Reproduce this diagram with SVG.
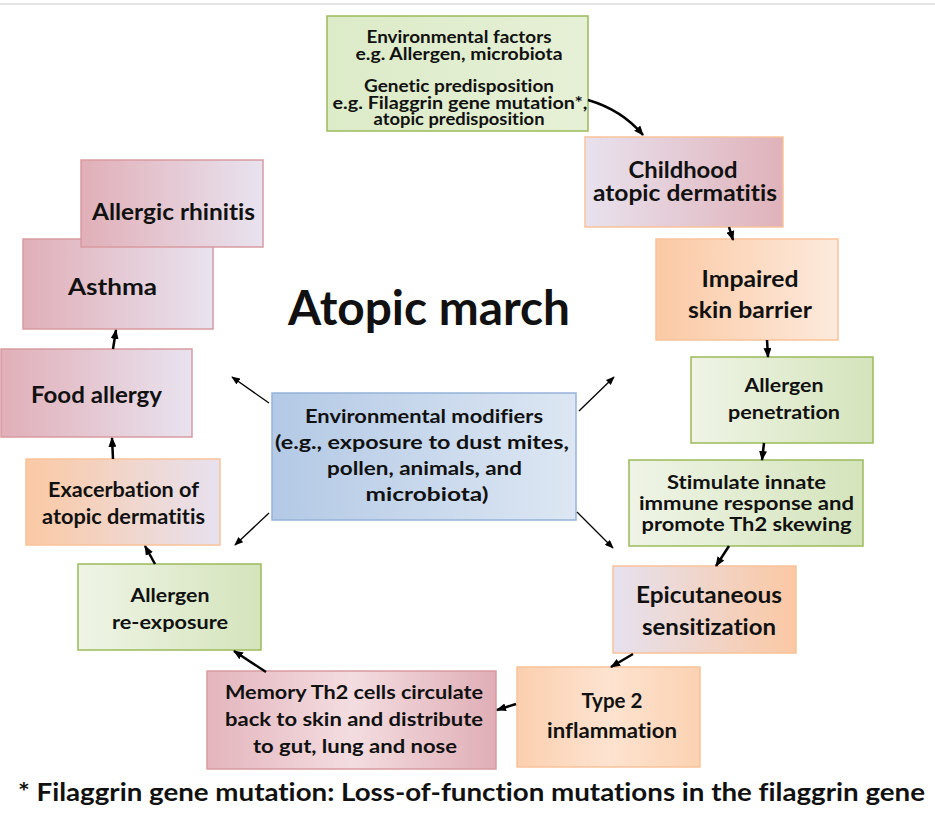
<svg xmlns="http://www.w3.org/2000/svg" width="935" height="821" viewBox="0 0 935 821">
<defs>
<linearGradient id="gGreen" x1="0" y1="0" x2="1" y2="0"><stop offset="0" stop-color="#eff4e6"/><stop offset="1" stop-color="#d4e4bb"/></linearGradient>
<linearGradient id="gGreenTop" x1="0" y1="0" x2="1" y2="0"><stop offset="0" stop-color="#dcebc8"/><stop offset="1" stop-color="#e6f0d6"/></linearGradient>
<linearGradient id="gLavPink" x1="0" y1="0" x2="1" y2="0"><stop offset="0" stop-color="#e8e2ee"/><stop offset="1" stop-color="#e0b2ba"/></linearGradient>
<linearGradient id="gPinkLav" x1="0" y1="0" x2="1" y2="0"><stop offset="0" stop-color="#e1afb8"/><stop offset="1" stop-color="#e8e3ef"/></linearGradient>
<linearGradient id="gOrangeLight" x1="0" y1="0" x2="1" y2="0"><stop offset="0" stop-color="#fbc9a4"/><stop offset="1" stop-color="#fdeadc"/></linearGradient>
<linearGradient id="gLavOrange" x1="0" y1="0" x2="1" y2="0"><stop offset="0" stop-color="#e6e1ef"/><stop offset="1" stop-color="#fbc8a3"/></linearGradient>
<linearGradient id="gOrangeLav" x1="0" y1="0" x2="1" y2="0"><stop offset="0" stop-color="#fbc9a4"/><stop offset="1" stop-color="#e7e1ef"/></linearGradient>
<linearGradient id="gOrange" x1="0" y1="0" x2="1" y2="0"><stop offset="0" stop-color="#fbcfae"/><stop offset="0.5" stop-color="#fde3d0"/><stop offset="1" stop-color="#fbd2b2"/></linearGradient>
<linearGradient id="gPink" x1="0" y1="0" x2="1" y2="0"><stop offset="0" stop-color="#e4b5bd"/><stop offset="0.5" stop-color="#f3dde0"/><stop offset="1" stop-color="#e0aeb6"/></linearGradient>
<linearGradient id="gBlue" x1="0" y1="0" x2="1" y2="0"><stop offset="0" stop-color="#b3c9e5"/><stop offset="1" stop-color="#dde7f3"/></linearGradient>
<marker id="ah" viewBox="0 0 10 8" refX="9" refY="4" markerWidth="10" markerHeight="8" markerUnits="userSpaceOnUse" orient="auto"><path d="M0,0 L10,4 L0,8 z" fill="#000"/></marker>
<marker id="ahs" viewBox="0 0 10 8" refX="9" refY="4" markerWidth="9" markerHeight="7" markerUnits="userSpaceOnUse" orient="auto"><path d="M0,0 L10,4 L0,8 z" fill="#000"/></marker>
</defs>
<style>
text{font-family:Lato,"Liberation Sans",sans-serif;font-weight:bold;fill:#111;text-anchor:middle;font-variant-ligatures:none}
.green{stroke:#9bbb59;stroke-width:1.5}
.peach{stroke:#f9c29a;stroke-width:1.5}
.red{stroke:#d99aa0;stroke-width:1.5}
.blue{stroke:#95b3d7;stroke-width:1.5}
.main{stroke:#000;stroke-width:2.5;fill:none;marker-end:url(#ah)}
.thin{stroke:#000;stroke-width:1.3;fill:none;marker-end:url(#ahs)}
</style>
<rect width="935" height="821" fill="#fff"/>
<line x1="0" y1="4" x2="935" y2="4" stroke="#c8c8c8" stroke-width="1"/>

<g id="env-factors">
<rect x="327" y="16" width="261" height="115" fill="url(#gGreenTop)" class="green"/>
<g font-size="16.5">
<text x="459" y="43" textLength="185" lengthAdjust="spacingAndGlyphs">Environmental factors</text>
<text x="459" y="60" textLength="207" lengthAdjust="spacingAndGlyphs">e.g. Allergen, microbiota</text>
<text x="459" y="92" textLength="190" lengthAdjust="spacingAndGlyphs">Genetic predisposition</text>
<text x="460" y="109" textLength="255" lengthAdjust="spacingAndGlyphs">e.g. Filaggrin gene mutation*,</text>
<text x="459" y="125" textLength="171" lengthAdjust="spacingAndGlyphs">atopic predisposition</text>
</g>
</g>

<g id="childhood-ad">
<rect x="585" y="137" width="198" height="90" fill="url(#gLavPink)" class="peach"/>
<text x="683" y="178" font-size="22" textLength="109" lengthAdjust="spacingAndGlyphs">Childhood</text>
<text x="685" y="201" font-size="22" textLength="184" lengthAdjust="spacingAndGlyphs">atopic dermatitis</text>
</g>

<g id="impaired-barrier">
<rect x="656" y="239" width="182" height="101" fill="url(#gOrangeLight)" class="peach"/>
<text x="750" y="287" font-size="22" textLength="97" lengthAdjust="spacingAndGlyphs">Impaired</text>
<text x="750" y="318" font-size="22" textLength="124" lengthAdjust="spacingAndGlyphs">skin barrier</text>
</g>

<g id="allergen-penetration">
<rect x="691" y="357" width="182" height="86" fill="url(#gGreen)" class="green"/>
<text x="784" y="392" font-size="19" textLength="79" lengthAdjust="spacingAndGlyphs">Allergen</text>
<text x="784" y="419" font-size="19" textLength="112" lengthAdjust="spacingAndGlyphs">penetration</text>
</g>

<g id="stimulate">
<rect x="629" y="460" width="234" height="86" fill="url(#gGreen)" class="green"/>
<text x="746.5" y="489" font-size="18" textLength="159" lengthAdjust="spacingAndGlyphs">Stimulate innate</text>
<text x="746.5" y="510" font-size="18" textLength="215" lengthAdjust="spacingAndGlyphs">immune response and</text>
<text x="746.5" y="531" font-size="18" textLength="210" lengthAdjust="spacingAndGlyphs">promote Th2 skewing</text>
</g>

<g id="epicutaneous">
<rect x="613" y="566" width="183" height="87" fill="url(#gLavOrange)" class="peach"/>
<text x="709" y="603" font-size="22" textLength="146" lengthAdjust="spacingAndGlyphs">Epicutaneous</text>
<text x="709" y="635" font-size="22" textLength="134" lengthAdjust="spacingAndGlyphs">sensitization</text>
</g>

<g id="type2">
<rect x="517" y="667" width="183" height="100" fill="url(#gOrange)" class="peach"/>
<text x="612" y="708" font-size="20" textLength="61" lengthAdjust="spacingAndGlyphs">Type 2</text>
<text x="612" y="738" font-size="20" textLength="130" lengthAdjust="spacingAndGlyphs">inflammation</text>
</g>

<g id="memory-th2">
<rect x="207" y="671" width="289" height="98" fill="url(#gPink)" class="red"/>
<text x="354" y="699" font-size="19.5" textLength="258" lengthAdjust="spacingAndGlyphs">Memory Th2 cells circulate</text>
<text x="354" y="726" font-size="19.5" textLength="258" lengthAdjust="spacingAndGlyphs">back to skin and distribute</text>
<text x="355" y="753" font-size="19.5" textLength="204" lengthAdjust="spacingAndGlyphs">to gut, lung and nose</text>
</g>

<g id="reexposure">
<rect x="78" y="564" width="183" height="86" fill="url(#gGreen)" class="green"/>
<text x="170" y="602" font-size="19" textLength="79" lengthAdjust="spacingAndGlyphs">Allergen</text>
<text x="170" y="629" font-size="19" textLength="116" lengthAdjust="spacingAndGlyphs">re-exposure</text>
</g>

<g id="exacerbation">
<rect x="26" y="459" width="194" height="86" fill="url(#gOrangeLav)" class="peach"/>
<text x="123.5" y="497" font-size="20" textLength="151" lengthAdjust="spacingAndGlyphs">Exacerbation of</text>
<text x="123.5" y="524" font-size="20" textLength="163" lengthAdjust="spacingAndGlyphs">atopic dermatitis</text>
</g>

<g id="food-allergy">
<rect x="1" y="349" width="191" height="88" fill="url(#gPinkLav)" class="red"/>
<text x="96.5" y="403" font-size="23" textLength="131" lengthAdjust="spacingAndGlyphs">Food allergy</text>
</g>

<g id="asthma">
<rect x="23" y="239" width="190" height="90" fill="url(#gPinkLav)" class="red"/>
<text x="112.5" y="295" font-size="22" textLength="89" lengthAdjust="spacingAndGlyphs">Asthma</text>
</g>

<g id="allergic-rhinitis">
<rect x="81" y="160" width="182" height="87" fill="url(#gPinkLav)" class="red"/>
<text x="173.5" y="220" font-size="22" textLength="163" lengthAdjust="spacingAndGlyphs">Allergic rhinitis</text>
</g>

<g id="env-modifiers">
<rect x="272" y="393" width="304" height="127" fill="url(#gBlue)" class="blue"/>
<text x="424" y="423" font-size="19" textLength="238" lengthAdjust="spacingAndGlyphs">Environmental modifiers</text>
<text x="422" y="449" font-size="19" textLength="294" lengthAdjust="spacingAndGlyphs">(e.g., exposure to dust mites,</text>
<text x="424.5" y="475" font-size="19" textLength="195" lengthAdjust="spacingAndGlyphs">pollen, animals, and</text>
<text x="427" y="501" font-size="19" textLength="123" lengthAdjust="spacingAndGlyphs">microbiota)</text>
</g>

<g id="title">
<text x="429" y="325" font-size="47" textLength="282" lengthAdjust="spacingAndGlyphs">Atopic march</text>
</g>

<g id="connectors">
<path class="main" d="M588,100 Q622,110 643,135"/>
<path class="main" d="M729,227 L733,240"/>
<path class="main" d="M767,340 L768,357"/>
<path class="main" d="M764,443 L762,460"/>
<path class="main" d="M729,546 L716,566"/>
<path class="main" d="M633,654 L611,667"/>
<path class="main" d="M516,704 L497,710"/>
<path class="main" d="M266,672 L234,651"/>
<path class="main" d="M155,564 L145,546"/>
<path class="main" d="M113,459 L112,438"/>
<path class="main" d="M113,349 L116,330"/>
<path class="thin" d="M269,403 L232,377"/>
<path class="thin" d="M269,513 L235,545"/>
<path class="thin" d="M579,411 L614,377"/>
<path class="thin" d="M577,512 L613,548"/>
</g>

<g id="footnote">
<text x="18" y="801" font-size="24" textLength="907" lengthAdjust="spacingAndGlyphs" style="text-anchor:start">* Filaggrin gene mutation: Loss-of-function mutations in the filaggrin gene</text>
</g>
</svg>
